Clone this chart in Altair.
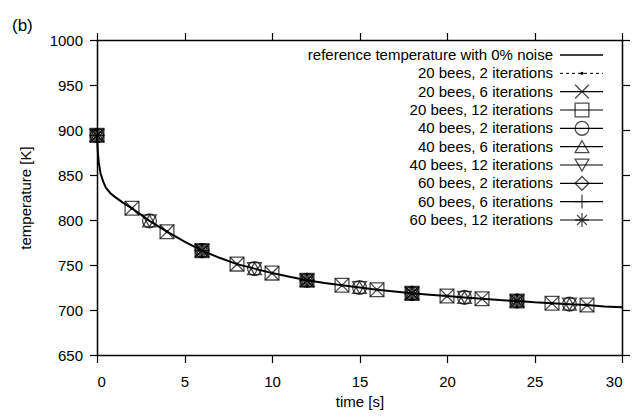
import altair as alt
import pandas as pd

FONT = "Liberation Sans"

# ---- data ----
ref_t = [0, 0.05, 0.1, 0.2, 0.35, 0.5, 0.75, 1.0, 1.5, 2, 3, 4, 5, 6, 7, 8, 9, 10,
         11, 12, 13, 14, 15, 16, 17, 18, 19, 20, 21, 22, 23, 24, 25, 26, 27, 28, 29, 30]
ref_T = [894, 875, 864, 852, 843, 836, 830, 826, 819, 813, 799, 787, 776, 766, 758, 751, 746, 741,
         737, 733, 730, 727.5, 725, 722.5, 720.5, 718.5, 717, 715.5, 714, 712.5, 711, 710, 708.5,
         707.5, 706.5, 705.5, 704, 703]

step2_t = [0, 2, 4, 6, 8, 10, 12, 14, 16, 18, 20, 22, 24, 26, 28]
step2_T = [894, 813, 787, 766, 751, 741, 733, 727.5, 722.5, 718.5, 715.5, 712.5, 710, 707.5, 705.5]
step3_t = [0, 3, 6, 9, 12, 15, 18, 21, 24, 27]
step3_T = [894, 799, 766, 746, 733, 725, 718.5, 714, 710, 706.5]
step6_t = [0, 6, 12, 18, 24]
step6_T = [894, 766, 733, 718.5, 710]

ref_label = "reference temperature with 0% noise"
dot_label = "20 bees, 2 iterations"
sym_names = ["20 bees, 6 iterations", "20 bees, 12 iterations",
             "40 bees, 2 iterations", "40 bees, 6 iterations", "40 bees, 12 iterations",
             "60 bees, 2 iterations", "60 bees, 6 iterations", "60 bees, 12 iterations"]
sym_sampling = ["s2", "s2", "s3", "s3", "s3", "s6", "s6", "s6"]
sym_shapes = ["M-1,-1L1,1M-1,1L1,-1", "square", "circle", "triangle-up", "triangle-down",
              "diamond", "M-1,0L1,0M0,-1L0,1",
              "M-1,0L1,0M0,-1L0,1M-0.72,-0.72L0.72,0.72M-0.72,0.72L0.72,-0.72"]
legend_labels = [ref_label, dot_label] + sym_names

x_ticks = [0, 5, 10, 15, 20, 25, 30]
y_ticks = [650, 700, 750, 800, 850, 900, 950, 1000]

# ---- tables ----
samplings = {"s2": (step2_t, step2_T), "s3": (step3_t, step3_T), "s6": (step6_t, step6_T)}
df_ref = pd.DataFrame({"t": ref_t, "T": ref_T})
df_dot = pd.DataFrame({"t": step2_t, "T": step2_T})
rows = []
for name, smp in zip(sym_names, sym_sampling):
    ts, Ts = samplings[smp]
    for t, T in zip(ts, Ts):
        rows.append({"series": name, "t": t, "T": T})
df_sym = pd.DataFrame(rows)
df_leg = pd.DataFrame({"label": legend_labels,
                       "kind": ["ref", "dot"] + ["sym"] * len(sym_names)})

xs = alt.Scale(domain=[0, 30], nice=False, zero=False)
ys = alt.Scale(domain=[650, 1000], nice=False, zero=False)
shape_scale = alt.Scale(domain=sym_names, range=sym_shapes)

X = alt.X("t:Q", scale=xs, axis=alt.Axis(values=x_ticks, title="time [s]", orient="bottom",
                                         labelPadding=12, titlePadding=5, format="d"))
Y = alt.Y("T:Q", scale=ys, axis=alt.Axis(values=y_ticks, title="temperature [K]", orient="left",
                                         labelPadding=7, titlePadding=16, format="d"))

ref_line = alt.Chart(df_ref).mark_line(color="black", strokeWidth=2).encode(x=X, y=Y)
dot_pts = alt.Chart(df_dot).mark_circle(color="black", size=10, opacity=1).encode(x=X, y=Y)
sym_pts = alt.Chart(df_sym).mark_point(filled=False, size=190, color="black", strokeWidth=1.3).encode(
    x=X, y=Y, shape=alt.Shape("series:N", scale=shape_scale, legend=None))
data_layer = alt.layer(ref_line, dot_pts, sym_pts)

border = alt.Chart(df_ref).mark_line(opacity=0).encode(
    x=alt.X("t:Q", scale=xs, axis=alt.Axis(values=x_ticks, orient="top", labels=False, title=None)),
    y=alt.Y("T:Q", scale=ys, axis=alt.Axis(values=y_ticks, orient="right", labels=False, title=None)))

LY = alt.Y("label:N", sort=legend_labels, scale=alt.Scale(type="point", range=[15, 180], padding=0), axis=None)
leg_base = alt.Chart(df_leg)
leg_text = leg_base.mark_text(align="right", baseline="middle", font=FONT, fontSize=15, color="black").encode(
    x=alt.value(456), y=LY, text="label:N")
leg_ref = leg_base.transform_filter("datum.kind == 'ref'").mark_rule(color="black", strokeWidth=1.5).encode(
    x=alt.value(463), x2=alt.value(506), y=LY)
leg_dash = leg_base.transform_filter("datum.kind == 'dot'").mark_rule(color="black", strokeWidth=1, strokeDash=[3, 3]).encode(
    x=alt.value(463), x2=alt.value(506), y=LY)
leg_dotp = leg_base.transform_filter("datum.kind == 'dot'").mark_circle(color="black", size=10, opacity=1).encode(
    x=alt.value(485), y=LY)
leg_rules = leg_base.transform_filter("datum.kind == 'sym'").mark_rule(color="black", strokeWidth=1.2).encode(
    x=alt.value(463), x2=alt.value(506), y=LY)
leg_syms = leg_base.transform_filter("datum.kind == 'sym'").mark_point(filled=False, size=190, color="black", strokeWidth=1.3).encode(
    x=alt.value(485), y=LY, shape=alt.Shape("label:N", scale=shape_scale, legend=None))
legend_layer = alt.layer(leg_text, leg_ref, leg_dash, leg_dotp, leg_rules, leg_syms)

chart = alt.layer(data_layer, border, legend_layer).resolve_scale(
    x="independent", y="independent"
).properties(
    width=525, height=315,
    autosize=alt.AutoSizeParams(type="none"),
    padding={"left": 89, "top": 32, "right": 12, "bottom": 55},
    title=alt.TitleParams("(b)", anchor="start", frame="group", dx=-85, dy=20, offset=0,
                          baseline="bottom", fontSize=17, font=FONT, fontWeight="normal", color="black"),
).configure_view(stroke=None).configure_axis(
    domainColor="black", domainWidth=1.5, tickColor="black", tickWidth=1.2, tickSize=7.5,
    labelFont=FONT, labelFontSize=15, labelColor="black",
    titleFont=FONT, titleFontSize=15, titleFontWeight="normal", titleColor="black", grid=False,
)

chart.save("out.html", embed_options={"renderer": "svg", "actions": False})
